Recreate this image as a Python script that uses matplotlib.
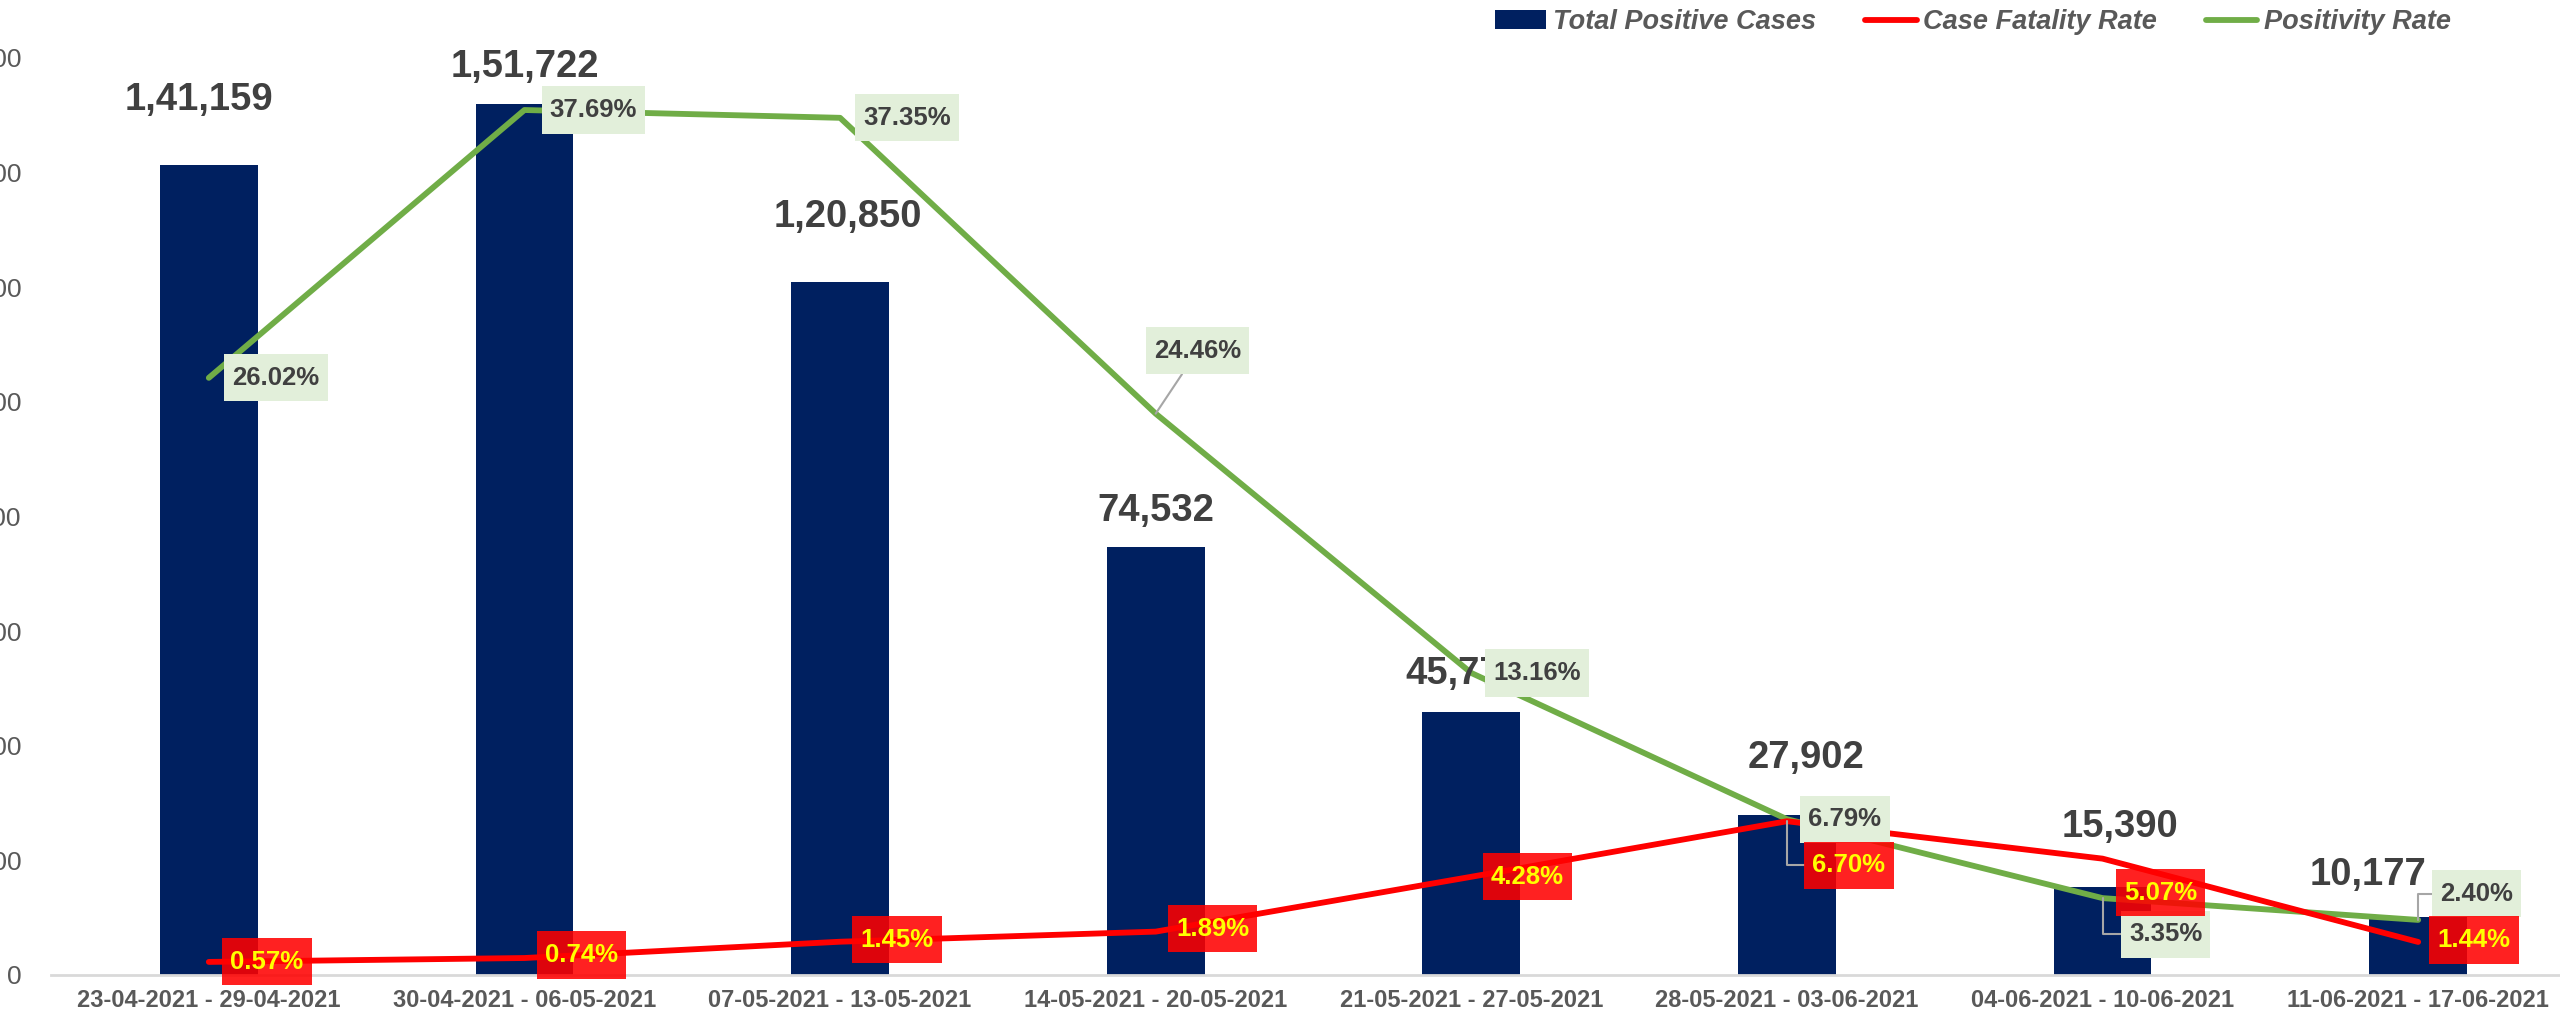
import numpy as np
import matplotlib.pyplot as plt
from matplotlib.path import Path
from matplotlib.ticker import FuncFormatter

plt.rcParams['font.family'] = ['Liberation Sans', 'DejaVu Sans']

# data
weeks = ['23-04-2021 - 29-04-2021', '30-04-2021 - 06-05-2021', '07-05-2021 - 13-05-2021',
         '14-05-2021 - 20-05-2021', '21-05-2021 - 27-05-2021', '28-05-2021 - 03-06-2021',
         '04-06-2021 - 10-06-2021', '11-06-2021 - 17-06-2021']
total_positive = [141159, 151722, 120850, 74532, 45775, 27902, 15390, 10177]
case_fatality = [0.57, 0.74, 1.45, 1.89, 4.28, 6.70, 5.07, 1.44]
positivity = [26.02, 37.69, 37.35, 24.46, 13.16, 6.79, 3.35, 2.40]

# label placement (offset of label centre from the mark, in pixels)
bar_lbl_off = [(-10, 65), (0, 37), (8, 65), (0, 36), (-7, 38), (19, 57), (17, 60), (-50, 42)]
pos_lbl_off = [(67, 0), (69, 0), (67, 0), (42, 63), (66, 0), (58, 0), (63, -36), (58, 26)]
cfr_lbl_off = [(58, 0), (57, 3), (57, 2), (57, 3), (56, 0), (62, -44), (58, -34), (56, 2)]
pos_leader = [None, None, None, 'straight', None, None, 'elbow', 'elbow']
cfr_leader = [None, None, None, None, None, 'elbow', None, None]

NAVY = '#002060'
RED = '#FF0000'
GREEN = '#70AD47'
TXT = '#404040'
AXTXT = '#595959'


def indian_fmt(v, pos=None):
    v = int(round(v))
    s = str(v)
    if len(s) <= 3:
        return s
    head, tail = s[:-3], s[-3:]
    parts = []
    while len(head) > 2:
        parts.insert(0, head[-2:])
        head = head[:-2]
    if head:
        parts.insert(0, head)
    return ','.join(parts) + ',' + tail


def label_box(x0, y0, width, height, mutation_size):
    # square box, a bit more padding top/bottom than at the sides
    px, py = 0.32 * mutation_size, 0.45 * mutation_size
    x0, y0 = x0 - px, y0 - py
    x1, y1 = x0 + width + 2 * px, y0 + height + 2 * py
    return Path([(x0, y0), (x1, y0), (x1, y1), (x0, y1), (x0, y0)], closed=True)


fig = plt.figure(figsize=(25.6, 10.23), dpi=100)
ax = fig.add_axes([51 / 2560, 48 / 1023, 2525 / 2560, 918 / 1023])
x = np.arange(len(weeks))

bars = ax.bar(x, total_positive, width=0.31, color=NAVY, zorder=2, label='Total Positive Cases')
ax.set_xlim(-0.5, len(weeks) - 0.5)
ax.set_ylim(0, 160000)
ax.set_yticks(np.arange(0, 160001, 20000))
ax.yaxis.set_major_formatter(FuncFormatter(indian_fmt))
ax.set_xticks(x)
ax.set_xticklabels(weeks, fontsize=17, fontweight='bold', color=AXTXT)
ax.tick_params(axis='y', length=0, pad=21, labelsize=19, labelcolor=AXTXT)
ax.tick_params(axis='x', length=0, pad=10)
for s in ['top', 'right', 'left']:
    ax.spines[s].set_visible(False)
ax.spines['bottom'].set_color('#D9D9D9')
ax.spines['bottom'].set_linewidth(2)

ax2 = ax.twinx()
ax2.set_ylim(0, 40)
ax2.axis('off')
l_pos, = ax2.plot(x, positivity, color=GREEN, lw=4.2, solid_capstyle='round',
                  solid_joinstyle='round', zorder=3, label='Positivity Rate')
l_cfr, = ax2.plot(x, case_fatality, color=RED, lw=4.2, solid_capstyle='round',
                  solid_joinstyle='round', zorder=4, label='Case Fatality Rate')

# value labels on the bars (behind the % boxes)
for i, v in enumerate(total_positive):
    dx, dy = bar_lbl_off[i]
    ax2.annotate(indian_fmt(v), xy=(i, v), xycoords=ax.transData, xytext=(dx, dy),
                 textcoords='offset pixels', ha='center', va='center',
                 fontsize=27.5, fontweight='bold', color=TXT, zorder=5)


def conn(kind):
    if kind == 'elbow':
        return dict(arrowstyle='-', color='#A6A6A6', lw=1.5, shrinkA=0, shrinkB=0,
                    connectionstyle='angle,angleA=0,angleB=90,rad=0')
    if kind == 'straight':
        return dict(arrowstyle='-', color='#A6A6A6', lw=1.5, shrinkA=0, shrinkB=0)
    return None


for i, v in enumerate(positivity):
    dx, dy = pos_lbl_off[i]
    ax2.annotate(f'{v:.2f}%', xy=(i, v), xytext=(dx, dy), textcoords='offset pixels',
                 ha='center', va='center', fontsize=18.5, fontweight='bold', color=TXT,
                 bbox=dict(boxstyle=label_box, fc='#E2EFDA', ec='none'),
                 arrowprops=conn(pos_leader[i]), zorder=6)

for i, v in enumerate(case_fatality):
    dx, dy = cfr_lbl_off[i]
    ax2.annotate(f'{v:.2f}%', xy=(i, v), xytext=(dx, dy), textcoords='offset pixels',
                 ha='center', va='center', fontsize=18.5, fontweight='bold', color='#FFFF00',
                 bbox=dict(boxstyle=label_box, fc=RED, ec='none', alpha=0.87),
                 arrowprops=conn(cfr_leader[i]), zorder=7)

fig.legend([bars, l_cfr, l_pos], ['Total Positive Cases', 'Case Fatality Rate', 'Positivity Rate'],
           loc='upper left', bbox_to_anchor=(1495 / 2560, 1 - 9 / 1023), ncol=3, frameon=False,
           prop=dict(size=19.5, weight='bold', style='italic'), labelcolor=AXTXT,
           handlelength=1.9, handleheight=0.65, handletextpad=0.25, columnspacing=1.8,
           borderpad=0, borderaxespad=0)

fig.savefig('out.png', dpi=100)
